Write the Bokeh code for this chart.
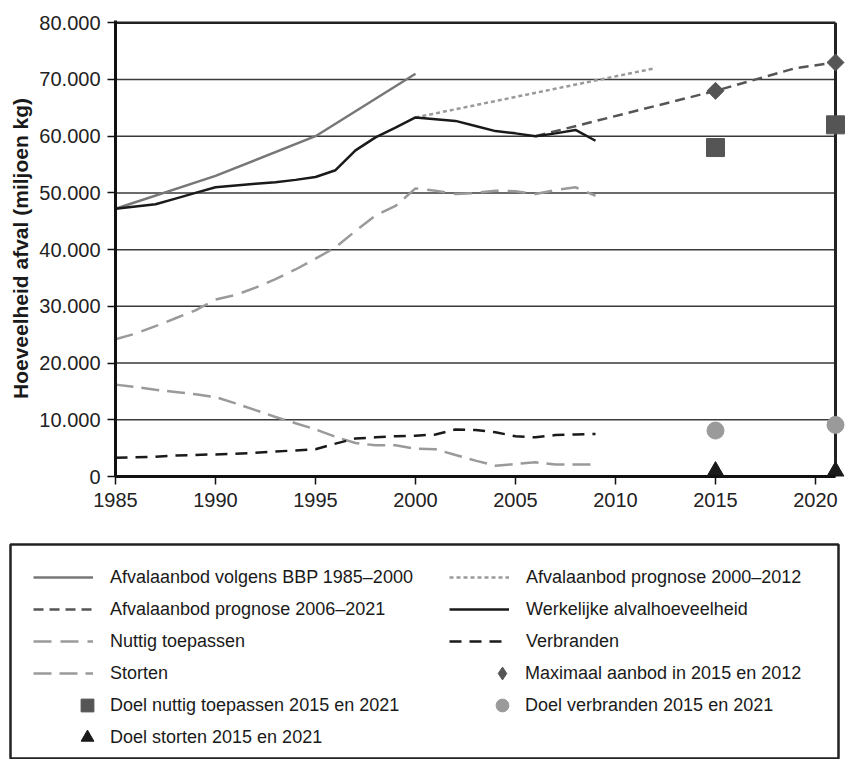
from bokeh.plotting import figure
from bokeh.models import Range1d, FixedTicker, Legend, LegendItem
from bokeh.layouts import column
from bokeh.embed import file_html
from bokeh.resources import INLINE
import math

# ---------------- data ----------------
YEARS_BBP = [1985, 1990, 1995, 2000]
BBP = [47200, 53000, 60000, 71000]

YEARS_PROG_2000 = [2000, 2012]
PROG_2000 = [63300, 72000]

YEARS_PROG_2006 = [2006, 2015, 2019, 2021]
PROG_2006 = [60000, 68000, 72000, 73000]

YEARS = list(range(1985, 2010))
WERKELIJK = [47200, 47600, 48000, 49000, 50000, 51000, 51300, 51600, 51900, 52300,
             52800, 54000, 57500, 59800, 61500, 63300, 63000, 62700, 61800, 60900,
             60500, 60000, 60500, 61100, 59200]
NUTTIG = [24200, 25200, 26500, 27900, 29300, 31200, 32000, 33300, 34800, 36500,
          38400, 40400, 43300, 46000, 47700, 50800, 50400, 49800, 50000, 50400,
          50300, 49800, 50500, 51000, 49500]
STORTEN = [16200, 15800, 15300, 14900, 14500, 14000, 12900, 11700, 10500, 9400,
           8300, 7000, 5900, 5500, 5500, 4900, 4800, 3800, 2800, 1900,
           2200, 2500, 2100, 2100, 2100]
VERBRANDEN = [3300, 3400, 3500, 3700, 3800, 3900, 4000, 4200, 4400, 4600,
              4800, 5800, 6700, 6900, 7100, 7200, 7400, 8300, 8200, 7800,
              7100, 6900, 7300, 7400, 7500]

TARGET_YEARS = [2015, 2021]
MAX_AANBOD = [68000, 73000]
DOEL_NUTTIG = [58000, 62000]
DOEL_VERBRANDEN = [8100, 9100]
DOEL_STORTEN = [900, 900]

Y_TICKS = [0, 10000, 20000, 30000, 40000, 50000, 60000, 70000, 80000]
X_TICKS = [1985, 1990, 1995, 2000, 2005, 2010, 2015, 2020]
X_START, X_END = 1985, 2021

FONT = "Liberation Sans"

# ---------------- styles ----------------
S_BBP = dict(line_color="#777777", line_width=2.5)
S_P2000 = dict(line_color="#9a9a9a", line_width=2.5, line_dash="4 3")
S_P2006 = dict(line_color="#555555", line_width=2.5, line_dash="10 6")
S_WERK = dict(line_color="#1a1a1a", line_width=2.5)
S_NUT = dict(line_color="#9a9a9a", line_width=2.5, line_dash="18 9")
S_STORT = dict(line_color="#9a9a9a", line_width=2.5, line_dash="18 8")
S_VERBR = dict(line_color="#1a1a1a", line_width=2.5, line_dash="12 8")
M_MAX = dict(marker="square", size=12, angle=math.pi / 4, color="#555555")
M_MAX_KEY = dict(marker="diamond", size=12, color="#555555")
M_NUT = dict(marker="square", size=18, color="#555555")
M_VERBR = dict(marker="circle", size=17, color="#9a9a9a")
M_STORT = dict(marker="triangle", size=17, color="#1a1a1a")

# line series: (label, x, y, style) -- legend column-major order
LINES = [
    ("Afvalaanbod volgens BBP 1985–2000", YEARS_BBP, BBP, S_BBP),
    ("Afvalaanbod prognose 2006–2021", YEARS_PROG_2006, PROG_2006, S_P2006),
    ("Nuttig toepassen", YEARS, NUTTIG, S_NUT),
    ("Storten", YEARS, STORTEN, S_STORT),
    ("Afvalaanbod prognose 2000–2012", YEARS_PROG_2000, PROG_2000, S_P2000),
    ("Werkelijke alvalhoeveelheid", YEARS, WERKELIJK, S_WERK),
    ("Verbranden", YEARS, VERBRANDEN, S_VERBR),
]
# marker series: (label, x, y, plot style, legend key style)
MARKERS_LEFT = [
    ("Doel nuttig toepassen 2015 en 2021", TARGET_YEARS, DOEL_NUTTIG, M_NUT, M_NUT),
    ("Doel storten 2015 en 2021", TARGET_YEARS, DOEL_STORTEN, M_STORT, M_STORT),
]
MARKERS_RIGHT = [
    ("Maximaal aanbod in 2015 en 2012", TARGET_YEARS, MAX_AANBOD, M_MAX, M_MAX_KEY),
    ("Doel verbranden 2015 en 2021", TARGET_YEARS, DOEL_VERBRANDEN, M_VERBR, M_VERBR),
]
LINE_DRAW_ORDER = [0, 4, 1, 2, 3, 6, 5]

# ---------------- main plot ----------------
p = figure(width=846, height=542,
           x_range=Range1d(1985, 2021.5), y_range=Range1d(0, 80400),
           output_backend="svg", toolbar_location=None,
           min_border_left=115, min_border_right=1,
           min_border_top=20, min_border_bottom=66)
p.frame_align = False
p.outline_line_color = None
p.grid.visible = False
p.background_fill_color = "white"
p.border_fill_color = "white"

# grid lines and frame border
p.segment(x0=X_START, x1=X_END, y0=Y_TICKS[1:-1], y1=Y_TICKS[1:-1],
          line_color="#3a3a3a", line_width=1.5)
p.segment(x0=X_START, x1=X_END, y0=Y_TICKS[-1], y1=Y_TICKS[-1],
          line_color="#222222", line_width=2.5)
p.segment(x0=X_END, x1=X_END, y0=Y_TICKS[0], y1=Y_TICKS[-1],
          line_color="#222222", line_width=3)

for i in LINE_DRAW_ORDER:
    lab, xs, ys, st = LINES[i]
    p.line(xs, ys, **st)
for lab, xs, ys, st, key in MARKERS_RIGHT + MARKERS_LEFT:
    p.scatter(xs, ys, **st)

for ax in (p.xaxis[0], p.yaxis[0]):
    ax.axis_line_width = 3
    ax.axis_line_color = "#111111"
    ax.major_tick_line_width = 1.5
    ax.major_tick_line_color = "#111111"
    ax.major_tick_in = 0
    ax.major_tick_out = 8
    ax.minor_tick_line_color = None
    ax.major_label_text_font = FONT
    ax.major_label_text_font_size = "20px"
    ax.major_label_text_color = "#222222"

p.xaxis.ticker = FixedTicker(ticks=X_TICKS)
p.xaxis.bounds = (X_START, X_END)
p.xaxis.major_label_standoff = 8

p.yaxis.ticker = FixedTicker(ticks=Y_TICKS)
p.yaxis.major_label_overrides = {v: f"{v:,}".replace(",", ".") for v in Y_TICKS}
p.yaxis.major_label_standoff = 7
p.yaxis.axis_label = "Hoeveelheid afval (miljoen kg)"
p.yaxis.axis_label_text_font = FONT
p.yaxis.axis_label_text_font_style = "bold"
p.yaxis.axis_label_text_font_size = "21px"
p.yaxis.axis_label_text_color = "#1a1a1a"
p.yaxis.axis_label_standoff = 4

# ---------------- legend panel (box = frame outline) ----------------
lg = figure(width=846, height=217, x_range=Range1d(0, 1), y_range=Range1d(0, 1),
            output_backend="svg", toolbar_location=None,
            x_axis_type=None, y_axis_type=None,
            min_border_left=10, min_border_right=8,
            min_border_top=2, min_border_bottom=0)
lg.frame_align = False
lg.grid.visible = False
lg.outline_line_color = "#222222"
lg.outline_line_width = 2.5
lg.background_fill_color = "white"
lg.border_fill_color = "white"

common = dict(padding=0, margin=0, spacing=0, glyph_height=32, label_height=20,
              label_text_font=FONT, label_text_font_size="18px",
              label_text_color="#1a1a1a", border_line_color=None,
              background_fill_alpha=0)

# hidden proxy renderers carry each series' style for the legend keys
line_items = []
for lab, xs, ys, st in LINES:
    r = lg.line(xs, ys, visible=False, **st)
    line_items.append(LegendItem(label=lab, renderers=[r]))
lg.add_layout(Legend(items=line_items, location=(23, 70), ncols=2,
                     orientation="vertical", glyph_width=60, label_width=339,
                     label_standoff=17, **common))

def marker_legend(entries, loc):
    its = []
    for lab, xs, ys, st, key in entries:
        r = lg.scatter(xs, ys, visible=False, **key)
        its.append(LegendItem(label=lab, renderers=[r]))
    return Legend(items=its, location=loc, glyph_width=32, label_standoff=7, **common)

lg.add_layout(marker_legend(MARKERS_LEFT, (61, 6)))
lg.add_layout(marker_legend(MARKERS_RIGHT, (476, 38)))

layout = column(p, lg)
open("out.html", "w").write(file_html(layout, INLINE))
